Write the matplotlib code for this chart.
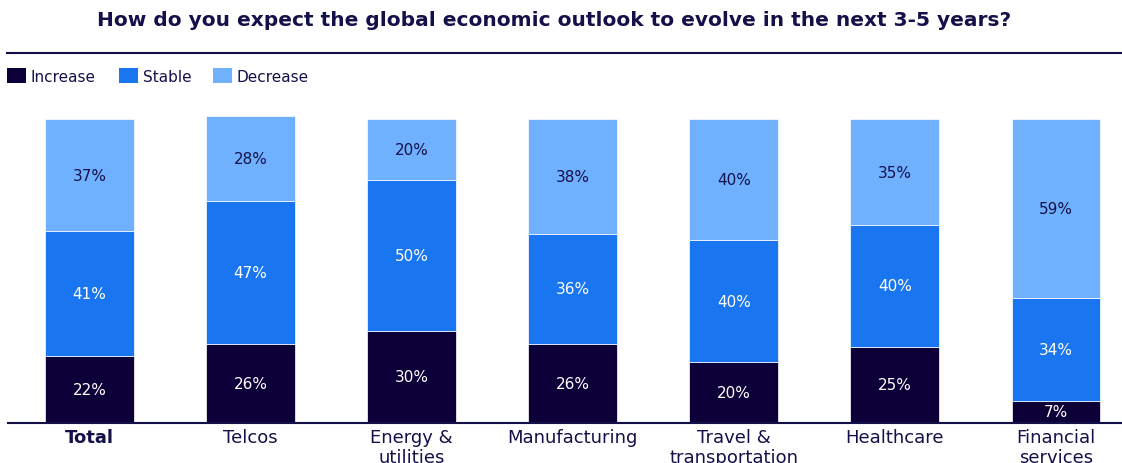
import numpy as np
import matplotlib.pyplot as plt
from matplotlib.patches import Rectangle
from matplotlib.lines import Line2D

# Survey answers by sector, in percent
sectors = ["Total", "Telcos", "Energy &\nutilities", "Manufacturing",
           "Travel &\ntransportation", "Healthcare", "Financial\nservices"]
increase = [22, 26, 30, 26, 20, 25, 7]
stable = [41, 47, 50, 36, 40, 40, 34]
decrease = [37, 28, 20, 38, 40, 35, 59]

series = [("Increase", increase, "#0d0038", "white"),
          ("Stable", stable, "#1a76f0", "white"),
          ("Decrease", decrease, "#6fb0ff", "#14104a")]

navy = "#14104a"
W, H = 1122, 464
plt.rcParams['font.family'] = ['DejaVu Sans']

fig = plt.figure(figsize=(W / 100, H / 100), dpi=100)
ax = fig.add_axes([8 / W, (H - 423.5) / H, 1 - 8 / W, (423.5 - 120) / H])

x = np.arange(len(sectors))
bottom = np.zeros(len(sectors))
for name, vals, color, txt in series:
    vals = np.array(vals, dtype=float)
    ax.bar(x, vals, width=0.552, bottom=bottom, color=color,
           edgecolor="white", linewidth=0.5, clip_on=False, label=name)
    for xi, b, v in zip(x, bottom, vals):
        ax.text(xi, b + v / 2, f"{int(v)}%", ha="center", va="center",
                color=txt, fontsize=11)
    bottom += vals

ax.set_xlim(-0.506, 6.41)
ax.set_ylim(0, 100)
ax.set_yticks([])
for s in ["top", "right", "left"]:
    ax.spines[s].set_visible(False)
ax.spines["bottom"].set_color(navy)
ax.spines["bottom"].set_linewidth(1.5)

ax.set_xticks(x)
ax.set_xticklabels(sectors, fontsize=13, color=navy, linespacing=1.15)
ax.tick_params(axis="x", length=0, pad=4)
ax.get_xticklabels()[0].set_fontweight("bold")

# title and rule underneath
fig.text(554 / W, 1 - 20 / H, "How do you expect the global economic outlook to evolve in the next 3-5 years?",
         ha="center", va="center", fontsize=14.5, fontweight="bold", color=navy)
fig.add_artist(Line2D([7 / W, 1], [1 - 54 / H] * 2, color=navy, lw=1.5,
                      transform=fig.transFigure))

# legend swatches laid out by hand
legend_x = [7, 119, 213]
for (name, _, color, _), lx in zip(series, legend_x):
    fig.add_artist(Rectangle((lx / W, 1 - 84 / H), 19 / W, 15 / H, facecolor=color,
                             edgecolor="none", transform=fig.transFigure))
    fig.text((lx + 24) / W, 1 - 77 / H, name, ha="left", va="center",
             fontsize=11, color=navy)

fig.savefig("out.png", dpi=100)
